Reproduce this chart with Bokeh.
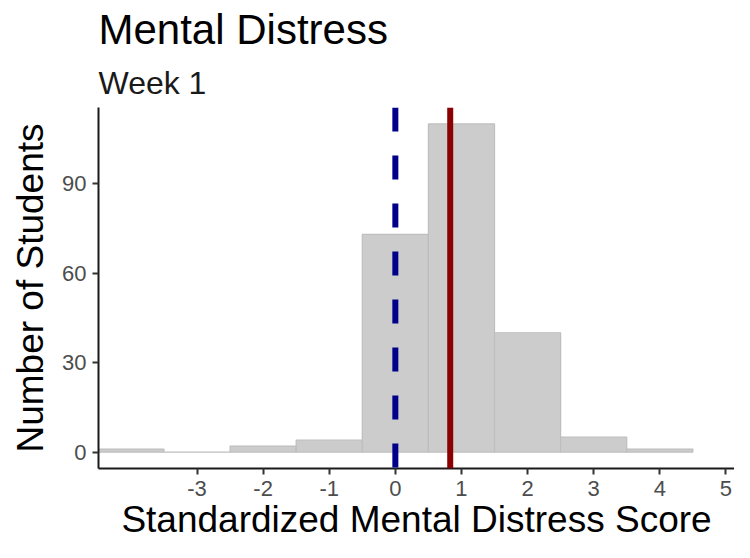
from bokeh.plotting import figure
from bokeh.models import Range1d, FixedTicker, Span, Title
from bokeh.embed import file_html
from bokeh.resources import INLINE

# Data (bin width 1)
bin_centers = [-4, -3, -2, -1, 0, 1, 2, 3, 4]
counts = [1, 0, 2, 4, 73, 110, 40, 5, 1]
bin_width = 1.0
reference_score = 0.0   # dashed blue line
mean_score = 0.83       # solid red line
x_ticks = [-3, -2, -1, 0, 1, 2, 3, 4, 5]
y_ticks = [0, 30, 60, 90]

title_text = "Mental Distress"
subtitle_text = "Week 1"
x_label = "Standardized Mental Distress Score"
y_label = "Number of Students"

FONT = "Liberation Sans"

p = figure(width=734, height=542, output_backend="svg", toolbar_location=None,
           x_range=Range1d(-4.49, 5.13), y_range=Range1d(-5.5, 115.5),
           min_border_left=98, min_border_right=0, min_border_bottom=70,
           min_border_top=10)

p.add_layout(Title(text=subtitle_text, text_font=FONT, text_font_size="32px",
                   text_font_style="normal", text_color="#1a1a1a", offset=0,
                   standoff=14), "above")
p.add_layout(Title(text=title_text, text_font=FONT, text_font_size="42px",
                   text_font_style="normal", text_color="#000000", offset=0,
                   standoff=6), "above")

left = [c - bin_width / 2 for c in bin_centers]
right = [c + bin_width / 2 for c in bin_centers]
bottom = [0] * len(counts)
p.quad(left=left, right=right, bottom=bottom, top=counts,
       fill_color="#cccccc", line_color="#bebebe", line_width=1.2)

p.add_layout(Span(location=reference_score, dimension="height",
                  line_color="#00008b", line_width=6, line_dash="24 24"))
p.add_layout(Span(location=mean_score, dimension="height",
                  line_color="#8b0000", line_width=6))

p.xgrid.visible = False
p.ygrid.visible = False
p.outline_line_color = None
p.background_fill_color = "white"
p.border_fill_color = "white"

for ax, ticks in ((p.xaxis, x_ticks), (p.yaxis, y_ticks)):
    ax.ticker = FixedTicker(ticks=ticks)
    ax.major_label_overrides = {t: str(t) for t in ticks}
    ax.minor_tick_line_color = None
    ax.axis_line_color = "#1a1a1a"
    ax.axis_line_width = 2
    ax.major_tick_line_color = "#333333"
    ax.major_tick_line_width = 2
    ax.major_tick_out = 6
    ax.major_tick_in = 0
    ax.major_label_text_font = FONT
    ax.major_label_text_font_size = "22px"
    ax.major_label_text_color = "#4d4d4d"
    ax.axis_label_text_font = FONT
    ax.axis_label_text_font_size = "37px"
    ax.axis_label_text_font_style = "normal"
    ax.axis_label_text_color = "#000000"

p.xaxis.axis_label = x_label
p.yaxis.axis_label = y_label
p.xaxis.major_label_standoff = 6
p.yaxis.major_label_standoff = 6
p.xaxis.axis_label_standoff = 0
p.yaxis.axis_label_standoff = 8

open("out.html", "w").write(file_html(p, INLINE))
